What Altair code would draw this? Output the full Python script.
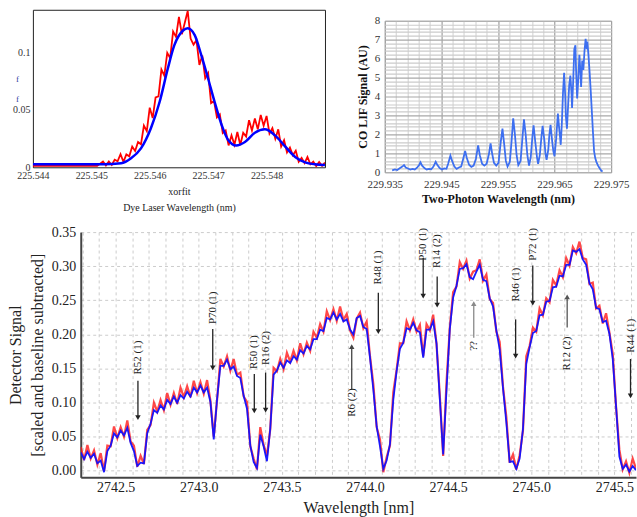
import altair as alt
import pandas as pd

SERIF = "Liberation Serif"

# ---------------- Panel A (top-left): dye laser scan ----------------
tl_red_x_flat = [225.5440, 225.5451]
tl_red_y_flat = [0.0012, 0.0012]
tl_red_x_start = 225.5452
tl_red_x_step = 0.00005
tl_red_y = [0.005, 0.0016, 0.005, 0.002, 0.0066, 0.0052, 0.0114, 0.0048, 0.0112, 0.0096,
            0.018, 0.0142, 0.022, 0.020, 0.0362, 0.0314, 0.0519, 0.0428, 0.0607, 0.0616,
            0.085, 0.0797, 0.0995, 0.095, 0.1182, 0.1134, 0.1309, 0.1158, 0.1257, 0.136,
            0.112, 0.1067, 0.1105, 0.089, 0.0972, 0.0774, 0.0819, 0.0558, 0.0577, 0.0434,
            0.046, 0.0298, 0.032, 0.019, 0.0278, 0.0196, 0.0307, 0.0194, 0.0301, 0.0268,
            0.041, 0.0321, 0.0425, 0.033, 0.0456, 0.0362, 0.0447, 0.0294, 0.0341, 0.0248,
            0.033, 0.0181, 0.0235, 0.013, 0.0172, 0.0104, 0.0144, 0.0048, 0.0082, 0.0036,
            0.009, 0.0026, 0.005, 0.001, 0.0046, 0.0012, 0.0042]
tl_blue_x = [225.5440, 225.5452, 225.54551, 225.54568, 225.54585, 225.54602, 225.54617,
             225.54631, 225.54642, 225.54657, 225.54665, 225.54677, 225.54688, 225.54700,
             225.54711, 225.54723, 225.54734, 225.54748, 225.54763, 225.54780, 225.54797,
             225.54814, 225.54832, 225.54849, 225.54866, 225.54883, 225.54900]
tl_blue_y = [0.0026, 0.0026, 0.0035, 0.0078, 0.0165, 0.034, 0.057,
             0.086, 0.106, 0.119, 0.121, 0.115, 0.098, 0.077,
             0.057, 0.037, 0.024, 0.019, 0.022, 0.030, 0.033,
             0.028, 0.018, 0.009, 0.0043, 0.0026, 0.002]
tl_x_ticks = [225.544, 225.545, 225.546, 225.547, 225.548]
tl_y_ticks = [0, 0.05, 0.1]

# ---------------- Panel B (top-right): CO LIF excitation scan ----------------
tr_x = [229.9363, 229.9368, 229.9372, 229.9377, 229.9381, 229.9384, 229.9387, 229.9391, 229.9395, 229.9399,
        229.9403, 229.9407, 229.9411, 229.9413, 229.9416, 229.9420, 229.9424, 229.9428, 229.9432, 229.9436,
        229.9440, 229.9443, 229.9447, 229.9451, 229.9455, 229.9459, 229.9462, 229.9466, 229.9469, 229.9473,
        229.9477, 229.9481, 229.9485, 229.9489, 229.9492, 229.9495, 229.9499, 229.9503, 229.9507, 229.9511,
        229.9515, 229.9518, 229.9522, 229.9526, 229.9530, 229.9534, 229.9537, 229.9540, 229.9543, 229.9547,
        229.9551, 229.9555, 229.9558, 229.9561, 229.9564, 229.9567, 229.9571, 229.9574, 229.9577, 229.9580,
        229.9583, 229.9586, 229.9590, 229.9593, 229.9596, 229.9599, 229.9602, 229.9605, 229.9608, 229.9611,
        229.9613, 229.9616, 229.9619, 229.9621, 229.9624, 229.9627, 229.9629, 229.9632, 229.9634, 229.9636,
        229.9639, 229.9641, 229.9643, 229.9646, 229.9648, 229.9650, 229.9653, 229.9656, 229.9658, 229.9660,
        229.9661, 229.9663, 229.9665, 229.9667, 229.9669, 229.9670, 229.9672, 229.9674, 229.9676, 229.9678,
        229.9680, 229.9681, 229.9683, 229.9685, 229.9687, 229.9688, 229.9690, 229.9692, 229.9694, 229.9696,
        229.9697, 229.9699, 229.9701, 229.9703, 229.9705, 229.9707, 229.9708, 229.9710, 229.9712, 229.9714,
        229.9716, 229.9718, 229.9720, 229.9722, 229.9724, 229.9727, 229.9730, 229.9733, 229.9735]
tr_y = [0.10, 0.15, 0.12, 0.22, 0.30, 0.38, 0.25, 0.20, 0.14, 0.18,
        0.15, 0.24, 0.40, 0.53, 0.35, 0.22, 0.15, 0.18, 0.16, 0.30,
        0.55, 0.38, 0.22, 0.15, 0.20, 0.18, 0.45, 0.88, 0.60, 0.30,
        0.18, 0.25, 0.30, 0.75, 1.12, 0.75, 0.40, 0.28, 0.35, 0.70,
        1.42, 0.90, 0.45, 0.35, 0.45, 0.95, 1.52, 0.95, 0.50, 0.35,
        0.50, 1.60, 2.30, 1.50, 0.60, 0.30, 0.55, 1.60, 2.85, 2.00,
        0.90, 0.38, 0.60, 1.70, 2.80, 2.00, 0.90, 0.35, 0.80, 1.90,
        2.48, 1.60, 0.80, 0.45, 0.90, 1.90, 2.45, 1.70, 1.00, 0.65,
        1.20, 2.00, 2.50, 1.60, 1.10, 0.85, 1.80, 3.10, 2.40, 1.80,
        1.45, 2.60, 4.20, 5.25, 4.00, 3.00, 2.30, 3.50, 4.60, 5.10,
        4.20, 3.40, 4.80, 6.50, 6.70, 5.50, 3.90, 4.90, 6.20, 5.20,
        4.50, 5.90, 5.40, 6.40, 7.05, 6.50, 6.90, 6.20, 5.30, 4.30,
        3.20, 2.10, 1.10, 0.75, 0.55, 0.35, 0.20, 0.08, 0.04]
tr_x_grid = [round(229.935 + 0.002 * k, 3) for k in range(21)]
tr_y_grid = [round(0.2 * k, 1) for k in range(41)]

# ---------------- Panel C (bottom): absorption spectrum ----------------
b_x_start = 2742.29
b_x_step = 0.02
b_blue = [0.027, 0.017, 0.028, 0.019, 0.025, 0.011, 0.015, -0.002,
          0.029, 0.037, 0.055, 0.049, 0.059, 0.052, 0.063, 0.041,
          0.029, 0.007, 0.012, 0.011, 0.055, 0.069, 0.089, 0.085,
          0.096, 0.090, 0.104, 0.098, 0.109, 0.100, 0.111, 0.106,
          0.116, 0.109, 0.122, 0.115, 0.125, 0.115, 0.122, 0.101,
          0.046, 0.105, 0.154, 0.154, 0.163, 0.149, 0.153, 0.139,
          0.136, 0.110, 0.091, 0.037, 0.013, 0.004, 0.053, 0.036,
          0.014, 0.062, 0.141, 0.147, 0.159, 0.151, 0.162, 0.158,
          0.168, 0.163, 0.177, 0.172, 0.183, 0.178, 0.193, 0.193,
          0.207, 0.205, 0.224, 0.222, 0.232, 0.222, 0.230, 0.219,
          0.222, 0.207, 0.200, 0.224, 0.227, 0.211, 0.208, 0.166,
          0.119, 0.065, 0.036, 0.003, 0.015, 0.039, 0.104, 0.146,
          0.179, 0.188, 0.209, 0.207, 0.217, 0.206, 0.203, 0.166,
          0.207, 0.207, 0.219, 0.187, 0.105, 0.024, 0.118, 0.208,
          0.254, 0.271, 0.296, 0.297, 0.303, 0.284, 0.281, 0.292,
          0.302, 0.280, 0.278, 0.253, 0.241, 0.206, 0.178, 0.121,
          0.071, 0.013, 0.014, 0.003, 0.018, 0.061, 0.157, 0.181,
          0.202, 0.205, 0.228, 0.229, 0.248, 0.249, 0.269, 0.270,
          0.286, 0.285, 0.302, 0.302, 0.323, 0.321, 0.325, 0.310,
          0.302, 0.275, 0.266, 0.239, 0.237, 0.218, 0.220, 0.201,
          0.164, 0.095, 0.021, 0.003, 0.009, -0.001, 0.007, 0.001]
b_red = [0.035, 0.016, 0.038, 0.018, 0.030, 0.009, 0.026, 0.000,
         0.037, 0.036, 0.065, 0.048, 0.064, 0.050, 0.074, 0.043,
         0.037, 0.006, 0.022, 0.010, 0.060, 0.067, 0.100, 0.087,
         0.104, 0.089, 0.114, 0.097, 0.114, 0.098, 0.122, 0.108,
         0.124, 0.108, 0.132, 0.114, 0.130, 0.113, 0.133, 0.103,
         0.050, 0.104, 0.164, 0.153, 0.168, 0.147, 0.164, 0.141,
         0.144, 0.109, 0.101, 0.036, 0.018, 0.002, 0.064, 0.038,
         0.022, 0.061, 0.151, 0.146, 0.164, 0.149, 0.173, 0.160,
         0.176, 0.162, 0.187, 0.171, 0.188, 0.176, 0.204, 0.195,
         0.215, 0.204, 0.234, 0.221, 0.237, 0.220, 0.241, 0.221,
         0.230, 0.206, 0.195, 0.223, 0.232, 0.209, 0.219, 0.168,
         0.127, 0.064, 0.046, -0.002, 0.020, 0.037, 0.115, 0.148,
         0.187, 0.187, 0.219, 0.206, 0.222, 0.204, 0.214, 0.168,
         0.215, 0.206, 0.229, 0.186, 0.110, 0.022, 0.129, 0.210,
         0.262, 0.270, 0.306, 0.296, 0.308, 0.282, 0.292, 0.294,
         0.310, 0.279, 0.288, 0.252, 0.246, 0.204, 0.189, 0.123,
         0.079, 0.012, 0.024, 0.002, 0.023, 0.059, 0.168, 0.183,
         0.210, 0.204, 0.238, 0.228, 0.253, 0.247, 0.280, 0.272,
         0.294, 0.284, 0.312, 0.301, 0.328, 0.319, 0.336, 0.312,
         0.310, 0.274, 0.276, 0.238, 0.242, 0.216, 0.231, 0.203,
         0.172, 0.094, 0.031, 0.002, 0.014, -0.003, 0.018, 0.003]
ann_label = ["R52 (1)", "P70 (1)", "R50 (1)", "R16 (2)", "R6 (2)", "R48 (1)", "P50 (1)",
             "R14 (2)", "??", "R46 (1)", "P72 (1)", "R12 (2)", "R44 (1)"]
ann_x = [2742.634, 2743.084, 2743.334, 2743.402, 2743.920, 2744.080, 2744.350,
         2744.434, 2744.654, 2744.906, 2745.009, 2745.216, 2745.597]
ann_tail = [0.132, 0.208, 0.142, 0.144, 0.120, 0.261, 0.312, 0.285, 0.195, 0.222, 0.301, 0.210, 0.164]
ann_tip = [0.078, 0.151, 0.088, 0.089, 0.182, 0.204, 0.256, 0.243, 0.245, 0.168, 0.246, 0.255, 0.110]
ann_text_y = [0.166, 0.239, 0.174, 0.180, 0.100, 0.298, 0.332, 0.322, 0.183, 0.273, 0.332, 0.172, 0.198]
ann_arrow_color = ["#222", "#222", "#222", "#222", "#444", "#222", "#222",
                   "#222", "#8a8a8a", "#222", "#222", "#555", "#222"]
b_x_grid = [round(2742.3 + 0.1 * k, 1) for k in range(34)]
b_y_ticks = [0.0, 0.05, 0.10, 0.15, 0.20, 0.25, 0.30, 0.35]

# ---------------- data frames ----------------
tl_red_x = tl_red_x_flat + [round(tl_red_x_start + tl_red_x_step * k, 6) for k in range(len(tl_red_y))]
tl_red_df = pd.DataFrame({"x": tl_red_x, "y": tl_red_y_flat + tl_red_y})
tl_blue_df = pd.DataFrame({"x": tl_blue_x, "y": tl_blue_y})
tr_df = pd.DataFrame({"x": tr_x, "y": tr_y})
b_x = [round(b_x_start + b_x_step * k, 2) for k in range(len(b_blue))]
b_df = pd.DataFrame({"x": b_x, "blue": b_blue, "red": b_red})
ann_df = pd.DataFrame({"label": ann_label, "ax": ann_x, "tail": ann_tail, "tip": ann_tip,
                       "ty": ann_text_y, "col": ann_arrow_color,
                       "dir": ["down" if t < s else "up" for s, t in zip(ann_tail, ann_tip)]})
spacer_df = pd.DataFrame({"a": [0]})


def spacer(w, h):
    return alt.Chart(spacer_df).mark_point(opacity=0, size=1).encode(
        x=alt.value(0), y=alt.value(0)).properties(
        width=w, height=h, view=alt.ViewBackground(stroke="transparent"))


# ---------- Panel A ----------
tl_xs = alt.Scale(domain=[225.544, 225.549], nice=False, zero=False)
tl_ys = alt.Scale(domain=[0, 0.137], nice=False)
tl_xa = alt.Axis(values=tl_x_ticks, format=".3f", labelFont=SERIF, labelFontSize=10, labelColor="#333",
                 labelPadding=3, labelFlush=False, ticks=False, domain=False, grid=False,
                 minExtent=14, maxExtent=14, title=["xorfit", "Dye Laser Wavelength (nm)"],
                 titleFont=SERIF, titleFontSize=10, titleFontWeight="normal", titleColor="#222",
                 titlePadding=5, titleLineHeight=16)
tl_ya = alt.Axis(values=tl_y_ticks, format="~g", labelFont=SERIF, labelFontSize=10, labelColor="#333",
                 labelPadding=3, labelFlush=False, ticks=False, domain=False, grid=False,
                 minExtent=32, maxExtent=32, title=["f", "f"], titleAngle=0, titleX=-16, titleY=69,
                 titleAlign="center", titleBaseline="middle", titleFont=SERIF, titleFontSize=9,
                 titleFontWeight="normal", titleColor="#303f9f", titleLineHeight=20)
tl_red = alt.Chart(tl_red_df).mark_line(color="#ff0000", strokeWidth=1.8, clip=True).encode(
    x=alt.X("x:Q", scale=tl_xs, axis=tl_xa), y=alt.Y("y:Q", scale=tl_ys, axis=tl_ya))
tl_blue = alt.Chart(tl_blue_df).mark_line(color="#0000ff", strokeWidth=2.5, interpolate="monotone",
                                          clip=True).encode(
    x=alt.X("x:Q", scale=tl_xs, axis=tl_xa), y=alt.Y("y:Q", scale=tl_ys, axis=tl_ya))
tl = alt.layer(tl_red, tl_blue).properties(
    width=293, height=158, view=alt.ViewBackground(stroke="#222", strokeWidth=1))

# ---------- Panel B ----------
major_x = "abs((datum.value*1000) % 10 - 5) < 0.1"
major_y = "abs(datum.value - round(datum.value)) < 0.01"
tr_xs = alt.Scale(domain=[229.935, 229.975], nice=False, zero=False)
tr_ys = alt.Scale(domain=[0, 8], nice=False)
tr_xa = alt.Axis(values=tr_x_grid, labelExpr=f"{major_x} ? format(datum.value, '.3f') : ''",
                 labelFont=SERIF, labelFontSize=11, labelColor="#333", labelPadding=6, labelFlush=False,
                 labelOverlap=False, ticks=False, domain=False, grid=True, gridWidth=1.2,
                 gridColor={"condition": {"test": major_x, "value": "#a0a0a0"}, "value": "#d8d8d8"},
                 minExtent=17, maxExtent=17, title="Two-Photon Wavelength (nm)", titleFont=SERIF,
                 titleFontSize=12, titleFontWeight="bold", titleColor="#111", titlePadding=4)
tr_ya = alt.Axis(values=tr_y_grid, labelExpr=f"{major_y} ? format(datum.value, 'd') : ''",
                 labelFont=SERIF, labelFontSize=11, labelColor="#333", labelPadding=5, labelFlush=False,
                 labelOverlap=False, ticks=False, domain=False, grid=True, gridWidth=1.2,
                 gridColor={"condition": {"test": major_y, "value": "#a8a8a8"}, "value": "#cbcbcb"},
                 minExtent=30, maxExtent=30, title="CO LIF Signal (AU)", titleX=-22, titleY=76,
                 titleAngle=270, titleAlign="center", titleBaseline="middle", titleFont=SERIF,
                 titleFontSize=12, titleFontWeight="bold", titleColor="#111")
tr = alt.Chart(tr_df).mark_line(color="#3d6ff0", strokeWidth=1.8, clip=True).encode(
    x=alt.X("x:Q", scale=tr_xs, axis=tr_xa), y=alt.Y("y:Q", scale=tr_ys, axis=tr_ya)).properties(
    width=227, height=152, view=alt.ViewBackground(stroke="#b0b0b0", strokeWidth=1))

# ---------- Panel C ----------
b_xs = alt.Scale(domain=[2742.29, 2745.63], nice=False, zero=False)
b_ys = alt.Scale(domain=[-0.0095, 0.35], nice=False, zero=False)
b_xa = alt.Axis(values=b_x_grid,
                labelExpr="(round(datum.value*10) % 5 == 0) ? format(datum.value, '.1f') : ''",
                labelFont=SERIF, labelFontSize=14, labelColor="#222", labelPadding=3, labelFlush=False,
                labelOverlap=False, ticks=False, domain=True, domainColor="#444", domainWidth=2,
                grid=True, gridColor="#cccccc", gridDash=[3, 3], minExtent=18, maxExtent=18,
                title="Wavelength [nm]", titleFont=SERIF, titleFontSize=16, titleFontWeight="normal",
                titleColor="#222", titlePadding=4)
b_ya = alt.Axis(values=b_y_ticks, format=".2f", labelFont=SERIF, labelFontSize=14, labelColor="#222",
                labelPadding=5, labelFlush=False, ticks=False, domain=True, domainColor="#444",
                domainWidth=2, grid=True, gridColor="#cccccc", gridDash=[3, 3],
                minExtent=80, maxExtent=80,
                title=["Detector Signal", "[scaled and baseline subtracted]"], titleX=-65, titleY=123,
                titleAngle=270, titleAlign="center", titleBaseline="middle", titleFont=SERIF,
                titleFontSize=16, titleFontWeight="normal", titleColor="#222", titleLineHeight=22)
b_red_line = alt.Chart(b_df).mark_line(color="#ff1a1a", strokeWidth=2.2, opacity=0.8, clip=True).encode(
    x=alt.X("x:Q", scale=b_xs, axis=b_xa), y=alt.Y("red:Q", scale=b_ys, axis=b_ya))
b_blue_line = alt.Chart(b_df).mark_line(color="#1010ff", strokeWidth=1.8, opacity=0.95, clip=True).encode(
    x=alt.X("x:Q", scale=b_xs, axis=b_xa), y=alt.Y("blue:Q", scale=b_ys, axis=b_ya))
ann_rules = alt.Chart(ann_df).mark_rule(strokeWidth=1.3).encode(
    x=alt.X("ax:Q", scale=b_xs, axis=b_xa), y=alt.Y("tail:Q", scale=b_ys, axis=b_ya), y2="tip:Q",
    color=alt.Color("col:N", scale=None))
ann_heads = alt.Chart(ann_df).mark_point(filled=True, size=30, opacity=1).encode(
    x=alt.X("ax:Q", scale=b_xs, axis=b_xa), y=alt.Y("tip:Q", scale=b_ys, axis=b_ya),
    color=alt.Color("col:N", scale=None),
    shape=alt.Shape("dir:N", scale=alt.Scale(domain=["down", "up"], range=["triangle-down", "triangle-up"]),
                    legend=None))
ann_text = alt.Chart(ann_df).mark_text(angle=270, font=SERIF, fontSize=11, color="#222", align="center",
                                       baseline="middle").encode(
    x=alt.X("ax:Q", scale=b_xs, axis=b_xa), y=alt.Y("ty:Q", scale=b_ys, axis=b_ya), text="label:N")
bottom = alt.layer(b_red_line, b_blue_line, ann_rules, ann_heads, ann_text).properties(
    width=557, height=246, view=alt.ViewBackground(stroke="transparent"))

tr_col = alt.vconcat(spacer(227, 1), tr, spacing=10, bounds="flush")
top_row = alt.hconcat(tl, tr_col, spacing=28)
bottom_row = alt.hconcat(spacer(1, 246), bottom, spacing=47, bounds="flush")

chart = alt.vconcat(top_row, bottom_row, spacing=11).properties(
    padding={"top": 8, "left": 0, "right": 0, "bottom": 0}).configure(background="white")

chart.save("out.html", embed_options={"renderer": "svg", "actions": False})
